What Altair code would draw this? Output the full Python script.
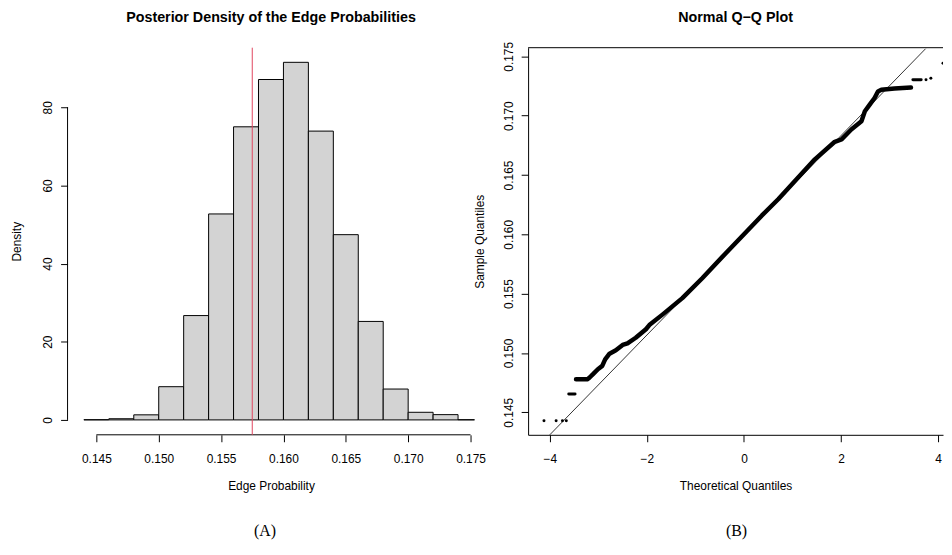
import altair as alt
import pandas as pd

# ---------------- Histogram data (panel A) ----------------
bin_edges = [0.144, 0.146, 0.148, 0.150, 0.152, 0.154, 0.156, 0.158, 0.160,
             0.162, 0.164, 0.166, 0.168, 0.170, 0.172, 0.174, 0.176]
density = [0.05, 0.3, 1.3, 8.5, 26.7, 52.7, 75.0, 87.1, 91.5,
           73.9, 47.4, 25.2, 7.9, 1.95, 1.35, 0.05]
red_line_x = [0.1575]
hist_xticks = [0.145, 0.150, 0.155, 0.160, 0.165, 0.170, 0.175]
hist_yticks = [0, 20, 40, 60, 80]

# ---------------- Q-Q data (panel B) ----------------
qq_main_x = [-3.46, -3.22, -3.18, -3.11, -3.01, -2.92, -2.86, -2.77, -2.64, -2.50,
             -2.40, -2.23, -2.02, -1.95, -1.68, -1.27, -0.86, -0.38, 0.0, 0.37,
             0.71, 1.46, 1.87, 2.01, 2.21, 2.42, 2.49, 2.59, 2.69, 2.76,
             2.83, 3.10, 3.44]
qq_main_y = [0.14779, 0.14779, 0.14793, 0.14821, 0.14863, 0.14891, 0.14946, 0.14994, 0.15022, 0.15067,
             0.15080, 0.15128, 0.15200, 0.15235, 0.15323, 0.15462, 0.15630, 0.15839, 0.16000, 0.16159,
             0.16298, 0.16632, 0.16780, 0.16800, 0.16884, 0.16953, 0.17037, 0.17093, 0.17149, 0.17204,
             0.17218, 0.17229, 0.17237]
qq_seg_x = [-3.61, -3.48, 3.48, 3.65]
qq_seg_y = [0.14654, 0.14654, 0.17302, 0.17302]
qq_seg_id = ["low", "low", "high", "high"]
qq_pts_x = [-4.12, -3.87, -3.74, -3.66, 3.75, 3.85, 4.10]
qq_pts_y = [0.14428, 0.14428, 0.14428, 0.14428, 0.17302, 0.17316, 0.17441]
qq_line_x = [-4.0, 3.74]
qq_line_y = [0.1431, 0.17564]
qq_xticks = [-4, -2, 0, 2, 4]
qq_yticks = [0.145, 0.150, 0.155, 0.160, 0.165, 0.170, 0.175]

FONT = "Liberation Sans"
W_L, W_R, H = 410, 418, 390

hist_df = pd.DataFrame({"lo": bin_edges[:-1], "hi": bin_edges[1:], "density": density})

xL = alt.Scale(domain=[0.14269, 0.17532], nice=False, zero=False)
yL = alt.Scale(domain=[-3.81, 95.24], nice=False, zero=False)

axXL = alt.Axis(values=hist_xticks, format=".3f", title="Edge Probability", domain=False,
                tickSize=7, labelPadding=12, titlePadding=16, grid=False)
axYL = alt.Axis(values=hist_yticks, title="Density", labelAngle=270, labelAlign="center",
                labelBaseline="bottom", domain=False, tickSize=7, labelPadding=6,
                titlePadding=18, grid=False)

bars = alt.Chart(hist_df).mark_bar(
    fill="#D3D3D3", stroke="black", strokeWidth=1, clip=True
).encode(
    x=alt.X("lo:Q", scale=xL, axis=axXL),
    x2="hi:Q",
    y=alt.Y("density:Q", scale=yL, axis=axYL),
    y2=alt.datum(0),
)

xline_df = pd.DataFrame({"lo": [min(hist_xticks)], "hi": [max(hist_xticks)]})
x_axis_line = alt.Chart(xline_df).mark_rule(color="black", strokeWidth=1).encode(
    x=alt.X("lo:Q", scale=xL, axis=axXL), x2="hi:Q", y=alt.value(H))

yline_df = pd.DataFrame({"density": [min(hist_yticks)], "d2": [max(hist_yticks)]})
y_axis_line = alt.Chart(yline_df).mark_rule(color="black", strokeWidth=1).encode(
    y=alt.Y("density:Q", scale=yL, axis=axYL), y2="d2:Q", x=alt.value(0))

red_df = pd.DataFrame({"lo": red_line_x})
red_rule = alt.Chart(red_df).mark_rule(color="#E0455F", strokeWidth=1).encode(
    x=alt.X("lo:Q", scale=xL, axis=axXL), y=alt.value(0), y2=alt.value(H))

lab_a = alt.Chart(pd.DataFrame({"t": ["(A)"]})).mark_text(
    font="Liberation Serif", fontSize=16, color="black").encode(
    text="t:N", x=alt.value(199), y=alt.value(487))

left = alt.layer(bars, x_axis_line, y_axis_line, red_rule, lab_a).properties(
    width=W_L, height=H,
    title=alt.TitleParams("Posterior Density of the Edge Probabilities",
                          anchor="middle", frame="group", offset=22))

# ---------------- Right panel ----------------
xR = alt.Scale(domain=[-4.447, 4.10], nice=False, zero=False)
yR = alt.Scale(domain=[0.14310, 0.17573], nice=False, zero=False)

axXR = alt.Axis(values=qq_xticks, title="Theoretical Quantiles", domain=True, tickSize=7,
                labelPadding=12, titlePadding=16, grid=False)
axYR = alt.Axis(values=qq_yticks, format=".3f", title="Sample Quantiles", labelAngle=270,
                labelAlign="center", labelBaseline="bottom", domain=True, tickSize=7,
                labelPadding=6, titlePadding=16, grid=False)

main_df = pd.DataFrame({"x": qq_main_x, "y": qq_main_y})
seg_df = pd.DataFrame({"x": qq_seg_x, "y": qq_seg_y, "g": qq_seg_id})
pts_df = pd.DataFrame({"x": qq_pts_x, "y": qq_pts_y})
qline_df = pd.DataFrame({"x": qq_line_x, "y": qq_line_y})

main_line = alt.Chart(main_df).mark_line(
    color="black", strokeWidth=4.5, strokeCap="round", strokeJoin="round").encode(
    x=alt.X("x:Q", scale=xR, axis=axXR), y=alt.Y("y:Q", scale=yR, axis=axYR))

seg_lines = alt.Chart(seg_df).mark_line(
    color="black", strokeWidth=3, strokeCap="round").encode(
    x=alt.X("x:Q", scale=xR, axis=axXR), y=alt.Y("y:Q", scale=yR, axis=axYR),
    detail="g:N")

pts = alt.Chart(pts_df).mark_circle(color="black", size=9, opacity=1, clip=True).encode(
    x=alt.X("x:Q", scale=xR, axis=axXR), y=alt.Y("y:Q", scale=yR, axis=axYR))

qq_line = alt.Chart(qline_df).mark_line(color="black", strokeWidth=0.8).encode(
    x=alt.X("x:Q", scale=xR, axis=axXR), y=alt.Y("y:Q", scale=yR, axis=axYR))

top_frame = alt.Chart(pd.DataFrame({"t": [0]})).mark_rule(color="black", strokeWidth=1).encode(
    x=alt.value(0), x2=alt.value(W_R), y=alt.value(0))

lab_b = alt.Chart(pd.DataFrame({"t": ["(B)"]})).mark_text(
    font="Liberation Serif", fontSize=16, color="black").encode(
    text="t:N", x=alt.value(210), y=alt.value(487))

right = alt.layer(main_line, seg_lines, pts, qq_line, top_frame, lab_b).properties(
    width=W_R, height=H,
    title=alt.TitleParams("Normal Q\u2212Q Plot", anchor="middle", frame="group", offset=16))

chart = alt.hconcat(left, right, spacing=54, bounds="flush").properties(
    padding={"left": 3, "top": 0, "right": 0, "bottom": 0}
).configure_view(stroke=None).configure_axis(
    labelFont=FONT, titleFont=FONT, labelFontSize=12, titleFontSize=12,
    labelColor="black", titleColor="black", titleFontWeight="normal",
    tickColor="black", domainColor="black", tickWidth=1, domainWidth=1
).configure_title(
    font=FONT, fontSize=14.4, fontWeight="bold", color="black"
)

chart.save("out.html", embed_options={"renderer": "svg", "actions": False})
